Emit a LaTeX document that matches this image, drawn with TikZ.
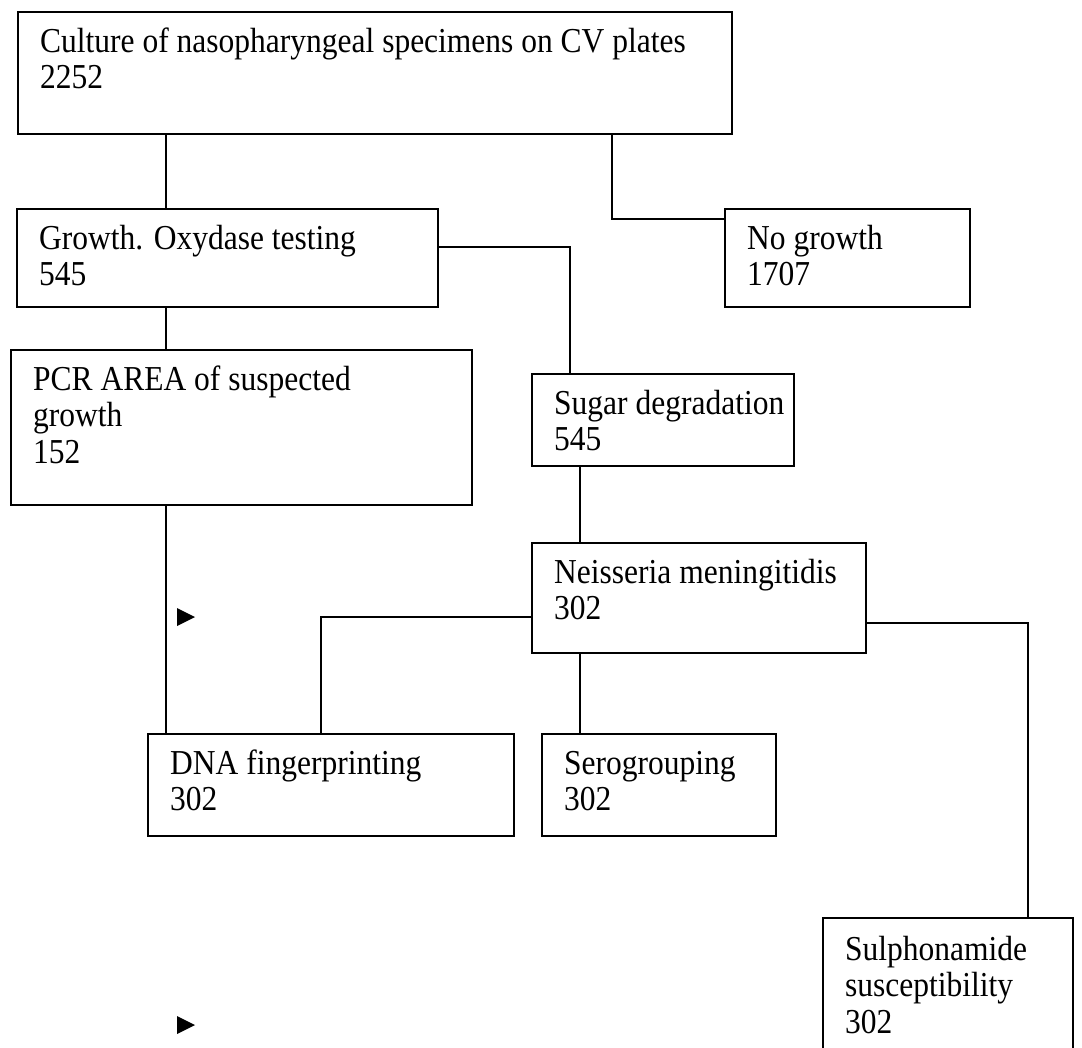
\documentclass[tikz,border=0pt]{standalone}
\usepackage{fontspec}
\setmainfont[FakeStretch=0.9]{Liberation Serif}
\begin{document}
\begin{tikzpicture}[x=1pt,y=-1pt,
  box/.style={draw=black, line width=2.3pt, anchor=north west, inner sep=0pt, outer sep=0pt},
  txt/.style={anchor=north west, inner sep=0pt, align=left, font=\fontsize{35}{36.5}\selectfont},
  conn/.style={draw=black, line width=2pt},
  tiphead/.style={fill=black}]
\useasboundingbox (0,0) rectangle (1082,1048);
\clip (0,0) rectangle (1082,1048);
\fill[white] (0,0) rectangle (1082,1048);

% boxes
\node[box, minimum width=714pt, minimum height=122pt] (cult) at (18,12) {};
\node[box, minimum width=421pt, minimum height=98pt] (growth) at (17,209) {};
\node[box, minimum width=245pt, minimum height=98pt] (nog) at (725,209) {};
\node[box, minimum width=461pt, minimum height=155pt] (pcr) at (11,350) {};
\node[box, minimum width=262pt, minimum height=92pt] (sugar) at (532,374) {};
\node[box, minimum width=334pt, minimum height=110pt] (neis) at (532,543) {};
\node[box, minimum width=366pt, minimum height=102pt] (dna) at (148,734) {};
\node[box, minimum width=234pt, minimum height=102pt] (sero) at (542,734) {};
\node[box, minimum width=250pt, minimum height=200pt] (sulph) at (823,918) {};

% texts
\node[txt] (cult-t) at ([shift={(22,14)}]cult.north west) {\rule{0pt}{26pt}Culture of nasopharyngeal specimens on CV plates\\2252};
\node[txt] (growth-t) at ([shift={(22,14)}]growth.north west) {\rule{0pt}{26pt}Growth. Oxydase testing\\545};
\node[txt] (nog-t) at ([shift={(22,14)}]nog.north west) {\rule{0pt}{26pt}No growth\\1707};
\node[txt] (pcr-t) at ([shift={(22,14)}]pcr.north west) {\rule{0pt}{26pt}PCR AREA of suspected\\growth\\152};
\node[txt] (sugar-t) at ([shift={(22,14)}]sugar.north west) {\rule{0pt}{26pt}Sugar degradation\\545};
\node[txt] (neis-t) at ([shift={(22,14)}]neis.north west) {\rule{0pt}{26pt}Neisseria meningitidis\\302};
\node[txt] (dna-t) at ([shift={(22,14)}]dna.north west) {\rule{0pt}{26pt}DNA fingerprinting\\302};
\node[txt] (sero-t) at ([shift={(22,14)}]sero.north west) {\rule{0pt}{26pt}Serogrouping\\302};
\node[txt] (sulph-t) at ([shift={(22,16)}]sulph.north west) {\rule{0pt}{26pt}Sulphonamide\\susceptibility\\302};

% connectors
\draw[conn] (166,0 |- cult.south) -- (166,0 |- growth.north);
\draw[conn] (612,0 |- cult.south) |- (nog.west |- 0,219);
\draw[conn] (growth.east |- 0,247) -| (570,0 |- sugar.north);
\draw[conn] (166,0 |- growth.south) -- (166,0 |- pcr.north);
\draw[conn] (166,0 |- pcr.south) -- (166,0 |- dna.north);
\draw[conn] (580,0 |- sugar.south) -- (580,0 |- neis.north);
\draw[conn] (neis.west |- 0,617) -| (321,0 |- dna.north);
\draw[conn] (580,0 |- neis.south) -- (580,0 |- sero.north);
\draw[conn] (neis.east |- 0,623) -| (1028,0 |- sulph.north);

% stray arrowheads
\fill[tiphead] (177,608) -- (195,617) -- (177,626) -- cycle;
\fill[tiphead] (177,1016) -- (195,1025) -- (177,1034) -- cycle;
\end{tikzpicture}
\end{document}
